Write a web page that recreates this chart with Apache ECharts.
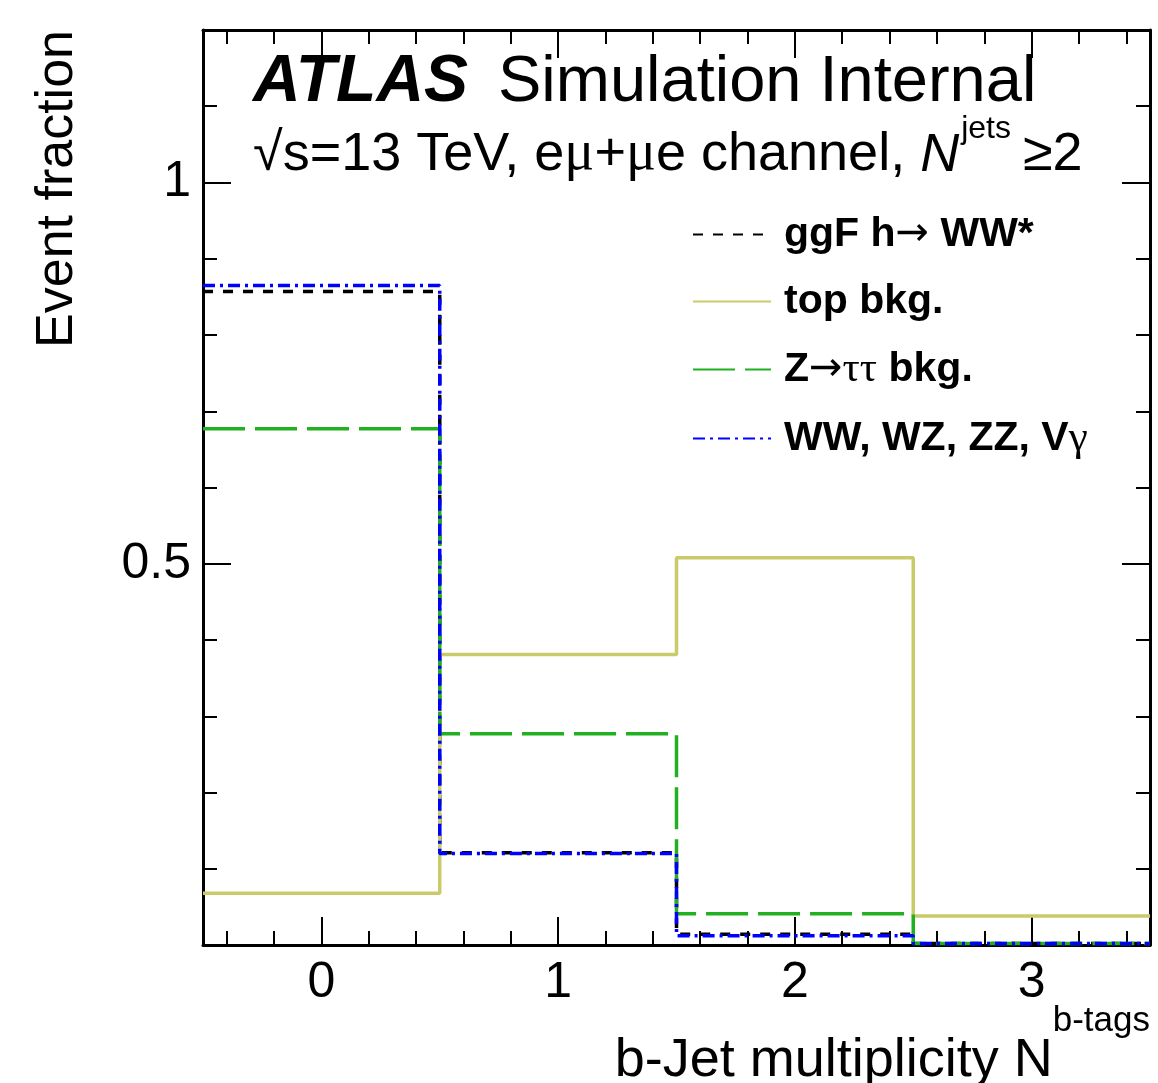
<!DOCTYPE html>
<html>
<head>
<meta charset="utf-8">
<script src="https://cdn.jsdelivr.net/npm/echarts@6/dist/echarts.min.js"></script>
<style>
html,body{margin:0;padding:0;background:#fff;}
#chart{width:1158px;height:1083px;}
</style>
</head>
<body>
<div id="chart"></div>
<script>
// ---- data ----
var bins = [0, 1, 2, 3];                       // b-tag multiplicity bin centres
var xTickLabels = [0, 1, 2, 3];
var yTickLabels = [0.5, 1];
var seriesNames = ['ggF h\u2192 WW*', 'top bkg.', 'Z\u2192\u03c4\u03c4 bkg.', 'WW, WZ, ZZ, V\u03b3'];
var ggF     = [0.857, 0.121, 0.014, 0.002];
var topBkg  = [0.068, 0.381, 0.508, 0.038];
var ztt     = [0.677, 0.277, 0.041, 0.002];
var diboson = [0.865, 0.120, 0.012, 0.002];

// ---- helpers ----
function histData(vals) {
  var d = bins.map(function (b, i) { return [b - 0.5, vals[i]]; });
  d.push([bins[bins.length - 1] + 0.5, vals[vals.length - 1]]);
  return d;
}
function range(a, b, step, skip) {
  var out = [];
  for (var v = a; v <= b + 1e-9; v += step) {
    var r = Math.round(v * 100) / 100;
    if (skip.indexOf(r) < 0) out.push(r);
  }
  return out;
}
var xMinor = range(-0.4, 3.4, 0.2, xTickLabels);
var yMinor = range(0.1, 1.1, 0.1, yTickLabels);

var FONT = '"Liberation Sans", Arial, Helvetica, sans-serif';
var SERIF = '"Liberation Serif", "DejaVu Serif", serif';
var LW = 3;
var SLW = 3.5;

function xAx(pos, ticks, len, showLine, labels) {
  return {
    type: 'value', position: pos, min: -0.5, max: 3.5,
    axisLine: { show: showLine, onZero: false, lineStyle: { color: '#000', width: LW } },
    axisTick: { show: true, inside: true, length: len, customValues: ticks, lineStyle: { color: '#000', width: 2 } },
    axisLabel: labels ? { show: true, customValues: labels, fontSize: 50, color: '#000', fontFamily: FONT, margin: 13 } : { show: false },
    splitLine: { show: false }
  };
}
function yAx(pos, ticks, len, showLine, labels) {
  return {
    type: 'value', position: pos, min: 0, max: 1.2,
    axisLine: { show: showLine, onZero: false, lineStyle: { color: '#000', width: LW } },
    axisTick: { show: true, inside: true, length: len, customValues: ticks, lineStyle: { color: '#000', width: 2 } },
    axisLabel: labels ? { show: true, customValues: labels, fontSize: 50, color: '#000', fontFamily: FONT, margin: 12 } : { show: false },
    splitLine: { show: false }
  };
}

function ser(name, vals, color, dash) {
  return {
    name: name, type: 'line', step: 'end', xAxisIndex: 0, yAxisIndex: 0,
    data: histData(vals), symbol: 'none', animation: false,
    lineStyle: { color: color, width: SLW, type: dash },
    itemStyle: { color: color }
  };
}

function legendFmt(name) {
  return name
    .replace('\u2192', '{ar|\u2192}')
    .replace(/([\u03c4\u03b3]+)/g, '{g|$1}');
}

var chart = echarts.init(document.getElementById('chart'), null, { renderer: 'canvas' });
chart.setOption({
  backgroundColor: '#fff',
  animation: false,
  grid: { left: 203, right: 8, top: 30, bottom: 138, containLabel: false },
  xAxis: [
    xAx('bottom', xTickLabels, 28, true, xTickLabels),
    xAx('bottom', xMinor, 14, false, null),
    xAx('top', xTickLabels, 28, true, null),
    xAx('top', xMinor, 14, false, null)
  ],
  yAxis: [
    yAx('left', yTickLabels, 28, true, yTickLabels),
    yAx('left', yMinor, 14, false, null),
    yAx('right', yTickLabels, 28, true, null),
    yAx('right', yMinor, 14, false, null)
  ],
  legend: {
    orient: 'vertical', left: 687, top: 209,
    itemWidth: 78, itemHeight: 14, itemGap: 26,
    itemStyle: { opacity: 0 },
    formatter: legendFmt,
    textStyle: {
      fontSize: 41, fontWeight: 'bold', color: '#000', fontFamily: FONT, lineHeight: 41, padding: [0, 0, 0, 8],
      rich: {
        ar: { fontSize: 40, fontWeight: 'normal', fontFamily: '"DejaVu Sans", sans-serif', color: '#000' },
        g: { fontSize: 43, fontWeight: 'normal', fontFamily: SERIF, color: '#000' }
      }
    },
    data: seriesNames
  },
  series: [
    ser(seriesNames[0], ggF, '#000000', [10, 10]),
    ser(seriesNames[1], topBkg, '#caca6a', 'solid'),
    ser(seriesNames[2], ztt, '#20b020', [42, 10]),
    ser(seriesNames[3], diboson, '#0000ff', [12, 5, 3, 5])
  ],
  graphic: [
    {
      type: 'text', x: 253, y: 83,
      style: { text: 'ATLAS', align: 'left', verticalAlign: 'middle',
        fontSize: 66, fontWeight: 'bold', fontStyle: 'italic', fontFamily: FONT, fill: '#000' }
    },
    {
      type: 'text', x: 498, y: 83,
      style: { text: 'Simulation Internal', align: 'left', verticalAlign: 'middle',
        fontSize: 65, fontFamily: FONT, fill: '#000' }
    },
    {
      type: 'text', x: 253, y: 148,
      style: {
        text: '{m|\u221As=13 TeV, e}{u|\u03bc}{m|+}{u|\u03bc}{m|e channel, }{n|N}{s|jets}{m|\u22652}',
        verticalAlign: 'middle', align: 'left',
        rich: {
          m: { fontSize: 54, fontFamily: FONT, fill: '#000', lineHeight: 69, verticalAlign: 'bottom' },
          u: { fontSize: 56, fontFamily: SERIF, fill: '#000', lineHeight: 69, verticalAlign: 'bottom' },
          n: { fontSize: 54, fontFamily: FONT, fontStyle: 'italic', fill: '#000', lineHeight: 69, verticalAlign: 'bottom' },
          s: { fontSize: 32, fontFamily: FONT, fill: '#000', lineHeight: 32, verticalAlign: 'top', padding: [0, 12, 0, 2] }
        }
      }
    },
    {
      type: 'text', x: 1150, y: 1046,
      style: {
        text: '{m|b-Jet multiplicity N}{s|b-tags}',
        verticalAlign: 'middle', align: 'right',
        rich: {
          m: { fontSize: 54, fontFamily: FONT, fill: '#000', lineHeight: 84, verticalAlign: 'bottom' },
          s: { fontSize: 35, fontFamily: FONT, fill: '#000', lineHeight: 35, verticalAlign: 'top' }
        }
      }
    },
    {
      type: 'text', x: 58, y: 30, rotation: Math.PI / 2,
      style: {
        text: 'Event fraction',
        align: 'right', verticalAlign: 'middle',
        fontSize: 52, fontFamily: FONT, fill: '#000'
      }
    }
  ]
});
</script>
</body>
</html>
